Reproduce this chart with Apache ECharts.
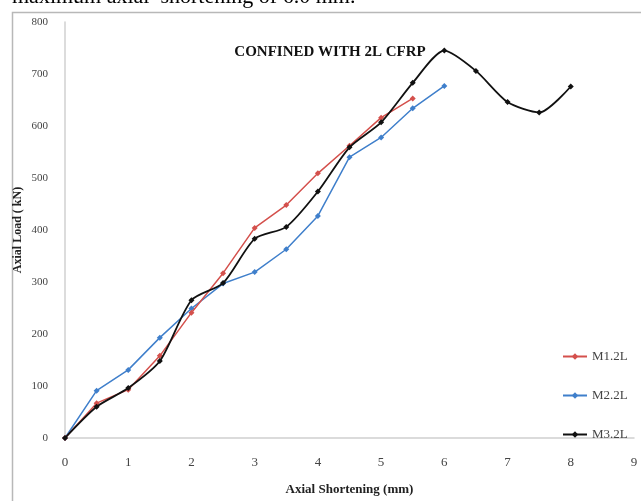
<!DOCTYPE html>
<html><head><meta charset="utf-8">
<script src="https://cdn.jsdelivr.net/npm/echarts@6/dist/echarts.min.js"></script>
<style>html,body{margin:0;padding:0;background:#fff}#c{width:641px;height:501px}</style>
</head><body><div id="c"></div>
<script>
const xM1 = [0,0.5,1,1.5,2,2.5,3,3.5,4,4.5,5,5.5];
const m1 = [0,67,93,158,241,317,404,448,509,562,616,653];
const xM2 = [0,0.5,1,1.5,2,2.5,3,3.5,4,4.5,5,5.5,6];
const m2 = [0,91,131,193,249,297,319,363,427,540,578,634,677];
const xM3 = [0,0.5,1,1.5,2,2.5,3,3.5,4,4.5,5,5.5,6,6.5,7,7.5,8];
const m3 = [0,60,96,148,265,298,383,406,474,559,607,683,745,706,646,626,676];
const names = ['M1.2L','M2.2L','M3.2L'];
const pair = (xs, ys) => xs.map((x,i)=>[x, ys[i]]);
const serif = 'Liberation Serif';
const chart = echarts.init(document.getElementById('c'));
chart.setOption({
  animation:false,
  backgroundColor:'#fff',
  title:{text:'CONFINED WITH 2L CFRP', left:325, top:40, textAlign:'center',
    textStyle:{fontFamily:serif, fontWeight:'bold', fontSize:15, color:'#111'}},
  graphic:[
    {type:'rect', shape:{x:12.5,y:12.5,width:640,height:500}, style:{fill:'none', stroke:'#b8b8b8', lineWidth:1.5}, z:-1},
    {type:'text', left:12, top:-14, style:{text:'maximum axial  shortening of 6.0 mm.', font:'22px "Liberation Serif"', fill:'#000'}}
  ],
  legend:{orient:'vertical', left:557, top:345, itemGap:26, itemWidth:24, itemHeight:8,
    data:names, textStyle:{fontFamily:serif, fontSize:13, color:'#444'}},
  grid:{left:65, right:7, top:22, bottom:61},
  xAxis:{type:'value', min:0, max:9, interval:1,
    name:'Axial Shortening (mm)', nameLocation:'middle', nameGap:45, nameMoveOverlap:false,
    nameTextStyle:{fontFamily:serif, fontWeight:'bold', fontSize:13, color:'#222'},
    axisLine:{lineStyle:{color:'#d0d0d0', width:1.5}}, axisTick:{show:false}, splitLine:{show:false},
    axisLabel:{fontFamily:serif, fontSize:13, color:'#444', margin:18}},
  yAxis:{type:'value', min:0, max:800, interval:100,
    name:'Axial Load ( kN)', nameLocation:'middle', nameGap:41, nameRotate:90, nameMoveOverlap:false,
    nameTextStyle:{fontFamily:serif, fontWeight:'bold', fontSize:12, color:'#222'},
    axisLine:{show:true, lineStyle:{color:'#d0d0d0', width:1.5}}, axisTick:{show:false}, splitLine:{show:false},
    axisLabel:{fontFamily:serif, fontSize:11, color:'#444', margin:17}},
  series:[
    {name:names[0], type:'line', data:pair(xM1,m1), color:'#D4504C', symbol:'diamond', symbolSize:6,
      lineStyle:{width:1.5}, z:3},
    {name:names[1], type:'line', data:pair(xM2,m2), color:'#3F7FCB', symbol:'diamond', symbolSize:6,
      lineStyle:{width:1.5}, z:2},
    {name:names[2], type:'line', data:pair(xM3,m3), color:'#111', symbol:'diamond', symbolSize:6,
      smooth:0.25, lineStyle:{width:1.8}, z:4}
  ]
});
</script></body></html>
